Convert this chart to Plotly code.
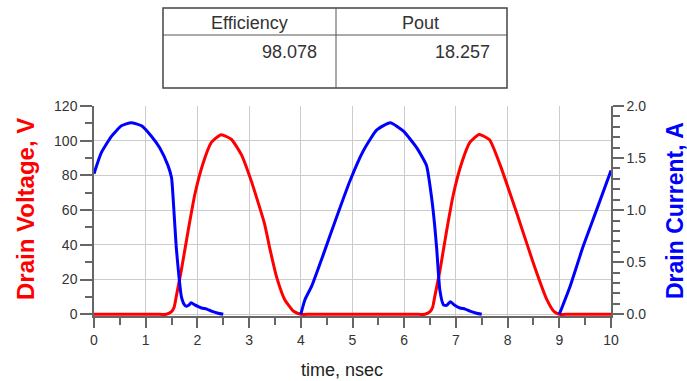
import plotly.graph_objects as go

# Drain current (A), plotted on the right axis; None leaves the off-state gaps empty
t_current = [0.00, 0.14, 0.34, 0.53, 0.72, 0.92, 1.11, 1.27, 1.43, 1.50, 1.53, 1.59, 1.64,
             1.69, 1.75, 1.79, 1.84, 1.88, 1.95, 2.08, 2.18, 2.27, 2.40, 2.50, None,
             4.00, 4.08, 4.21, 4.44, 4.69, 4.95, 5.21, 5.47, 5.73, 5.98, 6.24, 6.43, 6.53,
             6.59, 6.63, 6.69, 6.76, 6.82, 6.89, 6.97, 7.08, 7.18, 7.27, 7.40, 7.50, None,
             9.00, 9.21, 9.46, 9.72, 10.00]
i_drain = [1.35, 1.55, 1.71, 1.81, 1.84, 1.81, 1.71, 1.60, 1.43, 1.31, 1.12, 0.65, 0.38,
           0.17, 0.09, 0.076, 0.09, 0.11, 0.09, 0.06, 0.05, 0.03, 0.01, 0.0, None,
           0.0, 0.14, 0.27, 0.58, 0.93, 1.28, 1.57, 1.77, 1.84, 1.76, 1.60, 1.43, 1.12,
           0.85, 0.62, 0.23, 0.09, 0.085, 0.12, 0.09, 0.06, 0.05, 0.03, 0.01, 0.0, None,
           0.0, 0.27, 0.65, 1.00, 1.38]

# Drain voltage (V), plotted on the left axis
t_voltage = [0.00, 1.20, 1.40, 1.50, 1.55, 1.59, 1.69, 1.82, 1.95, 2.11, 2.27, 2.46, 2.66,
             2.85, 3.04, 3.30, 3.40, 3.53, 3.69, 3.86, 4.00, 4.20,
             6.20, 6.40, 6.50, 6.55, 6.59, 6.69, 6.82, 6.95, 7.11, 7.27, 7.45, 7.65, 7.85,
             8.18, 8.50, 8.76, 8.90, 9.00, 9.20, 10.00]
v_drain = [0.0, 0.0, 0.0, 1.5, 4.0, 10.0, 25.5, 48.0, 69.0, 87.0, 99.0, 103.5, 100.7,
           92.0, 77.0, 52.0, 38.0, 21.7, 8.4, 1.7, 0.0, 0.0,
           0.0, 0.0, 1.5, 4.0, 10.0, 25.0, 48.0, 69.0, 87.0, 99.0, 103.6, 100.5, 86.5,
           58.0, 29.3, 8.4, 1.5, 0.0, 0.0, 0.0]

# Summary table
table_headers = ["Efficiency", "Pout"]
table_values = ["98.078", "18.257"]

W, H = 687, 381
L, R, T, B = 94, 611, 106, 316   # plot area edges in pixels


def px(x):
    return (x - L) / (R - L)


def py(y):
    return (B - y) / (B - T)


FONT = "Liberation Sans, Arial, sans-serif"
AXIS_GRAY = "#666666"

fig = go.Figure()
fig.add_trace(go.Scatter(x=t_current, y=i_drain, yaxis="y2", mode="lines",
                         line=dict(color="#0000FF", width=3, shape="spline", smoothing=0.5),
                         connectgaps=False, showlegend=False, hoverinfo="skip"))
fig.add_trace(go.Scatter(x=t_voltage, y=v_drain, mode="lines",
                         line=dict(color="#FF0000", width=3, shape="spline", smoothing=0.5),
                         showlegend=False, hoverinfo="skip"))

fig.update_layout(
    width=W, height=H,
    margin=dict(l=L, r=W - R, t=T, b=H - B, pad=0),
    paper_bgcolor="white", plot_bgcolor="white",
    font=dict(family=FONT, size=14, color="#333333"),
    xaxis=dict(range=[0, 10], dtick=1, tick0=0, showgrid=True, gridcolor="#cccccc",
               gridwidth=1, zeroline=False, showline=True, linecolor=AXIS_GRAY, linewidth=1.5,
               ticks="outside", ticklen=10, tickcolor=AXIS_GRAY, tickwidth=1.5,
               minor=dict(dtick=0.5, ticks="outside", ticklen=7, tickcolor=AXIS_GRAY,
                          showgrid=False),
               tickfont=dict(size=14, color="#333333")),
    yaxis=dict(range=[-1, 120], dtick=20, tick0=0, showgrid=True, gridcolor="#cccccc",
               gridwidth=1, zeroline=False, showline=True, linecolor=AXIS_GRAY, linewidth=1.5,
               ticks="outside", ticklen=12, tickcolor=AXIS_GRAY, tickwidth=1.5,
               minor=dict(dtick=10, ticks="outside", ticklen=7, tickcolor=AXIS_GRAY,
                          showgrid=False),
               tickfont=dict(size=14, color="#333333")),
    yaxis2=dict(range=[-1 / 60, 2], dtick=0.5, tick0=0, overlaying="y", side="right",
                showgrid=False, zeroline=False, showline=True, linecolor=AXIS_GRAY,
                linewidth=1.5, tickformat=".1f",
                ticks="outside", ticklen=11, tickcolor=AXIS_GRAY, tickwidth=1.5,
                minor=dict(dtick=0.1, ticks="outside", ticklen=7, tickcolor=AXIS_GRAY,
                           showgrid=False),
                tickfont=dict(size=14, color="#333333")),
)

annotations = [
    dict(text="time, nsec", x=px(342), y=py(370), xref="paper", yref="paper",
         xanchor="center", yanchor="middle", showarrow=False,
         font=dict(family=FONT, size=18, color="#222222")),
    dict(text="<b>Drain Voltage, V</b>", x=px(25), y=py(209), xref="paper", yref="paper",
         xanchor="center", yanchor="middle", showarrow=False, textangle=-90,
         font=dict(family=FONT, size=24, color="#FF0000")),
    dict(text="<b>Drain Current, A</b>", x=px(675), y=py(211), xref="paper", yref="paper",
         xanchor="center", yanchor="middle", showarrow=False, textangle=-90,
         font=dict(family=FONT, size=23, color="#0000FF")),
]

# Table: header row and one value row
tx0, tx1, tdiv = 163, 507, 336
ty0, ty1, thead = 8, 88, 35
shapes = [
    dict(type="rect", xref="paper", yref="paper", x0=px(tx0), x1=px(tx1),
         y0=py(ty1), y1=py(ty0), line=dict(color="#444444", width=1.5)),
    dict(type="line", xref="paper", yref="paper", x0=px(tx0), x1=px(tx1),
         y0=py(thead), y1=py(thead), line=dict(color="#555555", width=1)),
    dict(type="line", xref="paper", yref="paper", x0=px(tdiv), x1=px(tdiv),
         y0=py(ty1), y1=py(ty0), line=dict(color="#555555", width=1)),
]
header_centers = [249, 420]
value_rights = [319, 492]
for h, v, hc, vr in zip(table_headers, table_values, header_centers, value_rights):
    annotations.append(dict(text=h, x=px(hc), y=py(23), xref="paper", yref="paper",
                            xanchor="center", yanchor="middle", showarrow=False,
                            font=dict(family=FONT, size=18, color="#333333")))
    annotations.append(dict(text=v, x=px(vr), y=py(52), xref="paper", yref="paper",
                            xanchor="right", yanchor="middle", showarrow=False,
                            font=dict(family=FONT, size=18, color="#333333")))

fig.update_layout(annotations=annotations, shapes=shapes)
fig.write_html("out.html")
